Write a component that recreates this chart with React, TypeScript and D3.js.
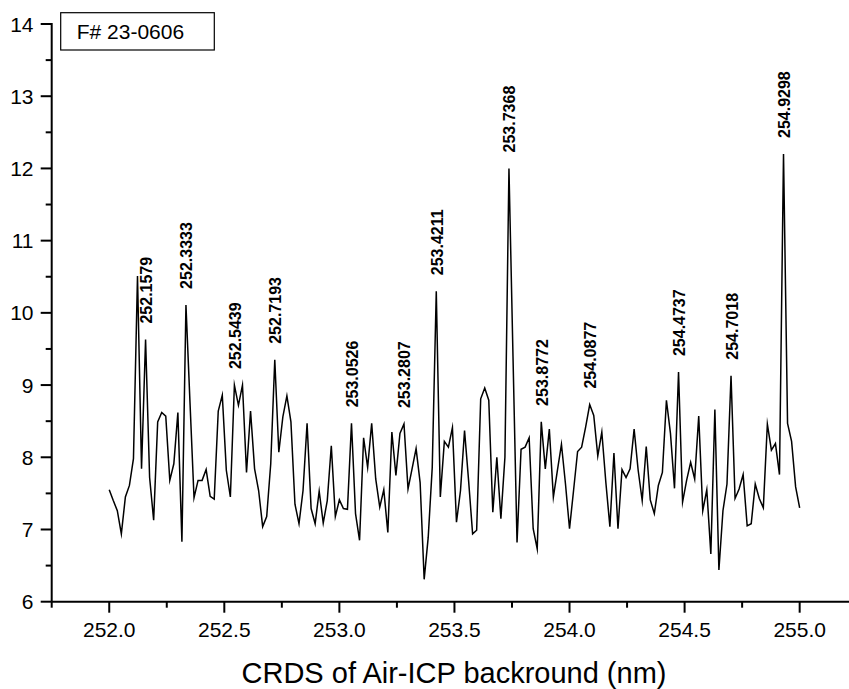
import React from "react";
import * as d3 from "d3";

// Spectrum sampled evenly from START_NM to END_NM
const START_NM = 252.0;
const END_NM = 255.0;
const intensity: number[] = [
  7.55, 7.40, 7.26, 6.94, 7.45, 7.61, 7.98, 10.51, 7.84, 9.63,
  7.72, 7.13, 8.49, 8.62, 8.57, 7.68, 7.91, 8.62, 6.83, 10.11,
  8.76, 7.44, 7.68, 7.68, 7.83, 7.46, 7.42, 8.64, 8.86, 7.82,
  7.45, 9.00, 8.72, 9.00, 7.79, 8.64, 7.84, 7.54, 7.04, 7.18,
  7.91, 9.35, 8.07, 8.56, 8.85, 8.49, 7.35, 7.08, 7.54, 8.47,
  7.29, 7.08, 7.53, 7.09, 7.40, 8.16, 7.18, 7.41, 7.29, 7.28,
  8.47, 7.22, 6.85, 8.27, 7.86, 8.47, 7.70, 7.31, 7.55, 6.96,
  8.35, 7.75, 8.33, 8.46, 7.56, 7.84, 8.12, 7.65, 6.31, 6.89,
  7.86, 10.30, 7.45, 8.22, 8.14, 8.41, 7.10, 7.54, 8.37, 7.68,
  6.94, 6.99, 8.81, 8.96, 8.79, 7.24, 8.00, 7.15, 8.00, 12.00,
  9.40, 6.82, 8.11, 8.14, 8.27, 7.01, 6.73, 8.49, 7.84, 8.39,
  7.45, 7.82, 8.18, 7.63, 7.01, 7.54, 8.08, 8.14, 8.42, 8.73,
  8.58, 8.02, 8.35, 7.65, 7.04, 8.06, 7.01, 7.83, 7.72, 7.84,
  8.39, 7.82, 7.40, 8.15, 7.41, 7.22, 7.61, 7.79, 8.79, 8.33,
  7.57, 9.18, 7.38, 7.68, 7.93, 7.70, 8.57, 7.26, 7.55, 6.66,
  8.66, 6.44, 7.26, 7.63, 9.13, 7.43, 7.56, 7.76, 7.05, 7.08,
  7.63, 7.43, 7.30, 8.46, 8.10, 8.19, 7.76, 12.20, 8.47, 8.22,
  7.59, 7.30,
];
const peakLabels: string[] = [
  "252.1579", "252.3333", "252.5439", "252.7193", "253.0526", "253.2807",
  "253.4211", "253.7368", "253.8772", "254.0877", "254.4737", "254.7018", "254.9298",
];
const xMajorTicks: number[] = [252.0, 252.5, 253.0, 253.5, 254.0, 254.5, 255.0];
const xMinorTicks: number[] = [251.75, 252.25, 252.75, 253.25, 253.75, 254.25, 254.75];
const yMajorTicks: number[] = [6, 7, 8, 9, 10, 11, 12, 13, 14];
const yMinorTicks: number[] = [6.5, 7.5, 8.5, 9.5, 10.5, 11.5, 12.5, 13.5];
const legendText = "F# 23-0606";
const xTitle = "CRDS of Air-ICP backround (nm)";

const FONT = "'Liberation Sans', Arial, Helvetica, sans-serif";

export default function App() {
  const W = 849, H = 689;
  const step = (END_NM - START_NM) / (intensity.length - 1);
  const wl = intensity.map((_, i) => START_NM + i * step);
  const x = d3.scaleLinear().domain([251.75, 255.25]).range([51.7, 857.2]);
  const y = d3.scaleLinear().domain([6, 14]).range([601.7, 24]);
  const line = d3
    .line<number>()
    .x((_, i) => x(wl[i]))
    .y((d) => y(d));

  const x0 = x(251.75);
  const y0 = y(6);

  return (
    <svg
      width={W}
      height={H}
      style={{ position: "absolute", left: 0, top: 0, background: "#fff" }}
      fontFamily={FONT}
    >
      <rect x={0} y={0} width={W} height={H} fill="#fff" />
      {/* data line */}
      <path d={line(intensity) || ""} fill="none" stroke="#000" strokeWidth={1.5} strokeLinejoin="miter" strokeMiterlimit={10} />

      {/* axes */}
      <line x1={x0} x2={W} y1={y0} y2={y0} stroke="#000" strokeWidth={2} />
      <line x1={x0} x2={x0} y1={y(14) - 1} y2={y0} stroke="#000" strokeWidth={2} />
      {xMajorTicks.map((t) => (
        <g key={"xm" + t}>
          <line x1={x(t)} x2={x(t)} y1={y0} y2={y0 + 11} stroke="#000" strokeWidth={2} />
          <text x={x(t)} y={637} textAnchor="middle" fontSize={21} fill="#000">
            {t.toFixed(1)}
          </text>
        </g>
      ))}
      {xMinorTicks.map((t) => (
        <line key={"xn" + t} x1={x(t)} x2={x(t)} y1={y0} y2={y0 + 6} stroke="#000" strokeWidth={2} />
      ))}
      {yMajorTicks.map((t) => (
        <g key={"ym" + t}>
          <line x1={x0 - 11} x2={x0} y1={y(t)} y2={y(t)} stroke="#000" strokeWidth={2} />
          <text x={33.5} y={y(t)} dy="0.36em" textAnchor="end" fontSize={21} fill="#000">
            {t}
          </text>
        </g>
      ))}
      {yMinorTicks.map((t) => (
        <line key={"yn" + t} x1={x0 - 6} x2={x0} y1={y(t)} y2={y(t)} stroke="#000" strokeWidth={2} />
      ))}

      {/* peak labels */}
      {peakLabels.map((l) => {
        const idx = Math.round((parseFloat(l) - START_NM) / step);
        const px = x(wl[idx]) + 1;
        const py = y(intensity[idx]) - 16;
        return (
          <text
            key={l}
            transform={`translate(${px},${py}) rotate(-90)`}
            dominantBaseline="central"
            fontSize={16}
            fontWeight="bold"
            fill="#000"
          >
            {l}
          </text>
        );
      })}

      {/* legend box */}
      <rect x={60.7} y={12.7} width={153.6} height={37.3} fill="#fff" stroke="#000" strokeWidth={1.2} />
      <text x={76.7} y={39.3} fontSize={21} fill="#000">
        {legendText}
      </text>

      {/* axis title */}
      <text x={454} y={683} textAnchor="middle" fontSize={29} fill="#000">
        {xTitle}
      </text>
    </svg>
  );
}
